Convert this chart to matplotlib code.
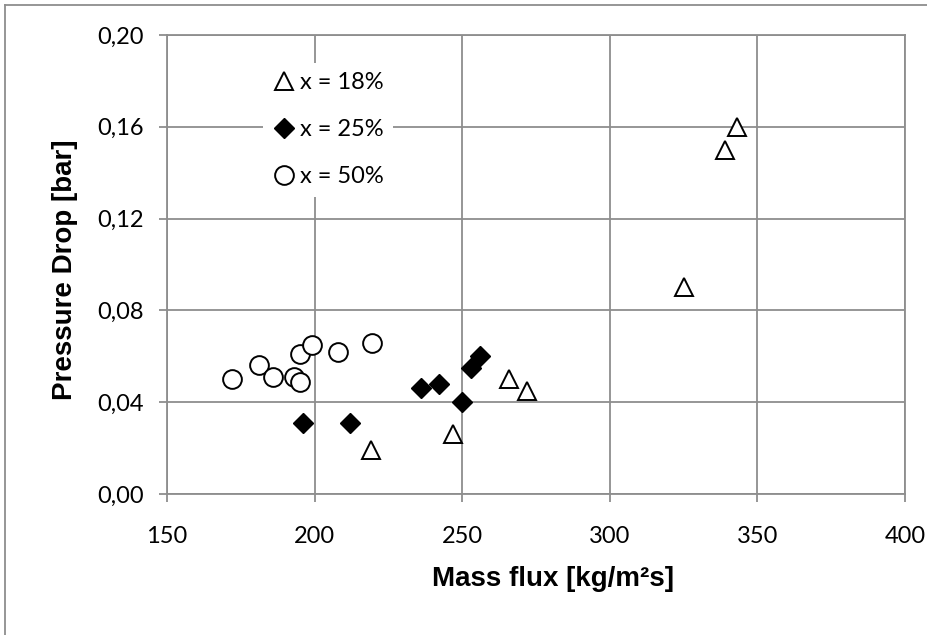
import matplotlib
matplotlib.use("Agg")
import matplotlib.pyplot as plt
from matplotlib.lines import Line2D

# Data
tri_x = [343, 339, 325, 266, 272, 247, 219]
tri_y = [0.160, 0.150, 0.090, 0.050, 0.045, 0.026, 0.019]

dia_x = [196, 212, 236, 242, 250, 253, 256]
dia_y = [0.031, 0.031, 0.046, 0.048, 0.040, 0.055, 0.060]

circ_x = [172, 181, 186, 193, 195, 195, 199, 208, 219.5]
circ_y = [0.050, 0.056, 0.051, 0.051, 0.049, 0.061, 0.065, 0.062, 0.066]

series_labels = ["x = 18%", "x = 25%", "x = 50%"]

x_ticks = [150, 200, 250, 300, 350, 400]
y_ticks = [0.00, 0.04, 0.08, 0.12, 0.16, 0.20]
y_tick_labels = ["0,00", "0,04", "0,08", "0,12", "0,16", "0,20"]

grid_col = "#8e8e8e"
tick_font = "Lato"
title_font = "Liberation Sans"

fig = plt.figure(figsize=(9.28, 6.35), dpi=100, facecolor="white")
ax = fig.add_axes([167 / 928, 1 - 494 / 635, 738 / 928, 459 / 635])

ax.plot(tri_x, tri_y, linestyle="none", marker="^", ms=13.5, mfc="white",
        mec="black", mew=1.4, label=series_labels[0], zorder=3)
ax.plot(dia_x, dia_y, linestyle="none", marker="D", ms=10, mfc="black",
        mec="black", mew=1.0, label=series_labels[1], zorder=3)
ax.plot(circ_x, circ_y, linestyle="none", marker="o", ms=13.5, mfc="white",
        mec="black", mew=1.4, label=series_labels[2], zorder=3)

ax.set_xlim(x_ticks[0], x_ticks[-1])
ax.set_ylim(y_ticks[0], y_ticks[-1])
ax.set_xticks(x_ticks)
ax.set_xticklabels([str(v) for v in x_ticks])
ax.set_yticks(y_ticks)
ax.set_yticklabels(y_tick_labels)

ax.grid(True, color=grid_col, linewidth=1.3, zorder=0)
ax.set_axisbelow(True)
for sp in ax.spines.values():
    sp.set_color(grid_col)
    sp.set_linewidth(1.3)

ax.tick_params(axis="both", direction="out", length=6, width=1.3,
               color=grid_col, labelsize=17, labelcolor="black")
ax.tick_params(axis="x", pad=17)
ax.tick_params(axis="y", pad=11)
for lab in ax.get_xticklabels() + ax.get_yticklabels():
    lab.set_fontfamily(tick_font)

ax.set_xlabel("Mass flux [kg/m²s]", fontfamily=title_font, fontweight="bold",
              fontsize=20, va="center")
ax.xaxis.set_label_coords((553 - 167) / 738, (494 - 579) / 459)
ax.set_ylabel("Pressure Drop [bar]", fontfamily=title_font, fontweight="bold",
              fontsize=20, va="center")
ax.yaxis.set_label_coords((65 - 167) / 738, (494 - 270) / 459)

leg = ax.legend(loc="upper left", bbox_to_anchor=(0.130, 0.939),
                borderaxespad=0, borderpad=0.4, handlelength=0.95,
                handletextpad=0.2, labelspacing=1.1, frameon=True,
                fancybox=False, framealpha=1, facecolor="white",
                edgecolor="none", prop={"family": tick_font, "size": 17})
leg.set_zorder(4)

# outer chart-area frame (left and top edges visible)
fig.add_artist(Line2D([5 / 928, 5 / 928], [0, 1 - 5 / 635],
                      color=grid_col, linewidth=1.3))
fig.add_artist(Line2D([5 / 928, 1], [1 - 5 / 635, 1 - 5 / 635],
                      color=grid_col, linewidth=1.3))

fig.savefig("out.png", dpi=100, facecolor="white")
